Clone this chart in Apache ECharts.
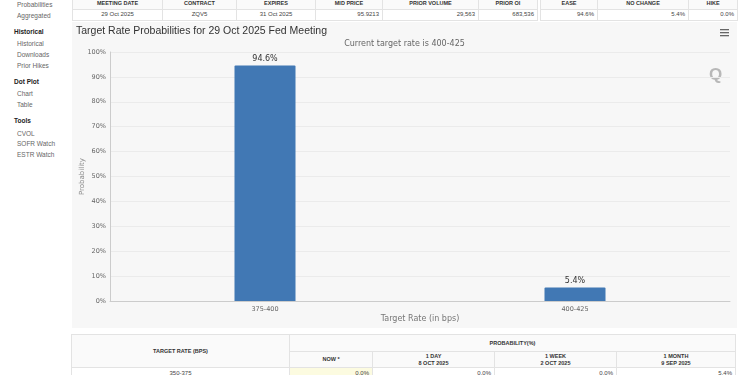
<!DOCTYPE html>
<html><head><meta charset="utf-8">
<script src="https://cdn.jsdelivr.net/npm/echarts@6/dist/echarts.min.js"></script>
<style>
html,body{margin:0;padding:0;background:#fff;width:750px;height:375px;overflow:hidden;font-family:"Liberation Sans",Arial,sans-serif;}
.cell{position:absolute;box-sizing:border-box;border:1px solid #e3e3e3;display:flex;align-items:center;padding:0 3px;color:#444;font-size:6px;white-space:nowrap;overflow:hidden;line-height:1.25;}
.hd{font-weight:bold;font-size:5.5px;color:#333;justify-content:center;text-align:center;}
.side{position:absolute;font-size:6.5px;color:#666;white-space:nowrap;transform:translateY(-50%);}
.side.b{font-weight:bold;color:#222;}
#chart{position:absolute;left:72px;top:22px;width:665px;height:306px;background:#f7f7f7;}
</style></head>
<body>
<div id="page"></div>
<div id="chart"></div>
<script>
// ---- data ----
const categories = ['375-400', '400-425'];
const probabilities = [94.6, 5.4];
const chartTitle = 'Target Rate Probabilities for 29 Oct 2025 Fed Meeting';
const chartSubtitle = 'Current target rate is 400-425';
const yTicks = [0,10,20,30,40,50,60,70,80,90,100];

const topHeaders1 = ['MEETING DATE','CONTRACT','EXPIRES','MID PRICE','PRIOR VOLUME','PRIOR OI'];
const topValues1 = ['29 Oct 2025','ZQV5','31 Oct 2025','95.9213','29,563','683,536'];
const topHeaders2 = ['EASE','NO CHANGE','HIKE'];
const topValues2 = ['94.6%','5.4%','0.0%'];

const sideItems = [
  ['Probabilities',false],['Aggregated',false],['Historical',true],['Historical',false],
  ['Downloads',false],['Prior Hikes',false],['Dot Plot',true],['Chart',false],['Table',false],
  ['Tools',true],['CVOL',false],['SOFR Watch',false],['ESTR Watch',false]
];

const probHeaders = ['NOW *','1 DAY<br>8 OCT 2025','1 WEEK<br>2 OCT 2025','1 MONTH<br>9 SEP 2025'];
const rateRows = ['350-375'];
const rateRowValues = [['0.0%','0.0%','0.0%','5.4%']];

// ---- page layout (HTML) ----
const page = document.getElementById('page');
function cell(x1,y1,x2,y2,html,cls,extra){
  const d=document.createElement('div');
  d.className='cell '+(cls||'');
  d.style.left=x1+'px';d.style.top=y1+'px';d.style.width=(x2-x1)+'px';d.style.height=(y2-y1)+'px';
  if(extra) Object.assign(d.style,extra);
  d.innerHTML=html;page.appendChild(d);return d;
}
const sideY=[4,15,31,43,54,65,81,93,104,120,133,143,154];
sideItems.forEach((s,i)=>{
  const d=document.createElement('div');
  d.className='side'+(s[1]?' b':'');
  d.style.left=(s[1]?14:17)+'px';d.style.top=sideY[i]+'px';
  d.textContent=s[0];page.appendChild(d);
});
const e1=[72,162,236,315,382,478,537];
topHeaders1.forEach((h,i)=>{
  cell(e1[i],-3,e1[i+1]+1,10,h,'hd',{background:'#fafafa'});
  cell(e1[i],9,e1[i+1]+1,21,topValues1[i],'',{justifyContent:i<3?'center':'flex-end'});
});
const e2=[540,597,688,737];
topHeaders2.forEach((h,i)=>{
  cell(e2[i],-3,e2[i+1]+1,10,h,'hd',{background:'#fafafa'});
  cell(e2[i],9,e2[i+1]+1,21,topValues2[i],'',{justifyContent:'flex-end'});
});
const eb=[71,289,372,494,616,736];
cell(eb[0],334,eb[1]+1,368,'TARGET RATE (BPS)','hd',{background:'#fafafa'});
cell(eb[1],334,eb[5],352,'PROBABILITY(%)','hd',{background:'#fafafa'});
probHeaders.forEach((h,i)=>{
  cell(eb[i+1],351,eb[i+2]+(i<3?1:0),368,h,'hd',{background:'#fafafa'});
});
rateRows.forEach((r,ri)=>{
  const y=367+ri*12;
  cell(eb[0],y,eb[1]+1,y+13,r,'',{justifyContent:'center'});
  rateRowValues[ri].forEach((v,i)=>{
    cell(eb[i+1],y,eb[i+2]+(i<3?1:0),y+13,v,'',{justifyContent:'flex-end',background:i===0?'#fcfbe0':'#fff'});
  });
});

// ---- chart ----
const chart = echarts.init(document.getElementById('chart'));
chart.setOption({
  backgroundColor:'#f7f7f7',
  animation:false,
  title:[
    {text:chartTitle,left:4,top:4,padding:0,textStyle:{fontSize:10.5,fontWeight:'normal',color:'#333',fontFamily:'Liberation Sans'}},
    {text:chartSubtitle,left:'center',top:18,padding:0,textStyle:{fontSize:8,fontWeight:'normal',color:'#666',fontFamily:'DejaVu Sans'}}
  ],
  grid:{left:38,right:7,top:30,bottom:27,containLabel:false,outerBoundsMode:'none'},
  xAxis:{
    type:'category',data:categories,
    axisLine:{lineStyle:{color:'#cccccc'}},axisTick:{show:false},
    axisLabel:{fontSize:6.5,color:'#666',margin:5,fontFamily:'DejaVu Sans'},
    name:'Target Rate (in bps)',nameLocation:'middle',nameGap:14,nameMoveOverlap:false,
    nameTextStyle:{fontSize:8,color:'#777',fontFamily:'DejaVu Sans'}
  },
  yAxis:{
    type:'value',min:yTicks[0],max:yTicks[yTicks.length-1],interval:yTicks[1]-yTicks[0],
    axisLine:{show:true,lineStyle:{color:'#cccccc'}},axisTick:{show:false},
    axisLabel:{formatter:'{value}%',fontSize:6.5,color:'#666',margin:4,fontFamily:'DejaVu Sans'},
    splitLine:{lineStyle:{color:'#ebebeb'}},
    name:'Probability',nameLocation:'middle',nameGap:24,nameRotate:90,nameMoveOverlap:false,
    nameTextStyle:{fontSize:7,color:'#888',fontFamily:'DejaVu Sans'}
  },
  series:[{
    type:'bar',data:probabilities,barWidth:61,
    itemStyle:{color:'#4178b4',borderRadius:[1,1,0,0]},
    label:{show:true,position:'top',distance:3,formatter:'{c}%',fontSize:8,color:'#333',fontFamily:'DejaVu Sans'}
  }],
  graphic:[
    {type:'rect',left:648,top:7,shape:{width:9,height:1.3},style:{fill:'#666'}},
    {type:'rect',left:648,top:10,shape:{width:9,height:1.3},style:{fill:'#666'}},
    {type:'rect',left:648,top:13,shape:{width:9,height:1.3},style:{fill:'#666'}},
    {type:'text',left:637,top:45,style:{text:'Q',fontSize:17,fontWeight:'bold',fill:'#b8b8b8',fontFamily:'Liberation Sans'}}
  ]
});
</script>
</body></html>
